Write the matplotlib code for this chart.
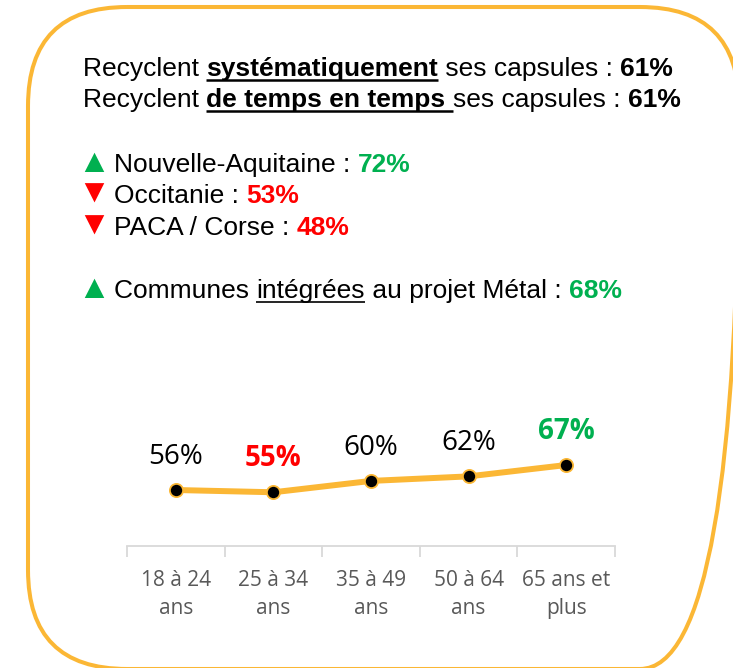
import matplotlib
matplotlib.use("Agg")
import matplotlib.pyplot as plt
from matplotlib.patches import FancyBboxPatch

# ---------------- data ----------------
categories = ["18 à 24\nans", "25 à 34\nans", "35 à 49\nans", "50 à 64\nans", "65 ans et\nplus"]
values = [56, 55, 60, 62, 67]
label_colors = ["black", "#FF0000", "black", "black", "#00B050"]
label_weights = ["normal", "bold", "normal", "normal", "bold"]

GREEN = "#00B050"
RED = "#FF0000"
ORANGE = "#FBB735"

# each piece: (text, weight, color, underline)
header_line1 = [("Recyclent ", "normal", "black", False),
                ("systématiquement", "bold", "black", True),
                (" ses capsules : ", "normal", "black", False),
                ("61%", "bold", "black", False)]
header_line2 = [("Recyclent ", "normal", "black", False),
                ("de temps en temps ", "bold", "black", True),
                ("ses capsules : ", "normal", "black", False),
                ("61%", "bold", "black", False)]
region_lines = [
    [("▲", "normal", GREEN, False), ("Nouvelle-Aquitaine : ", "normal", "black", False), ("72%", "bold", GREEN, False)],
    [("▼", "normal", RED, False), ("Occitanie : ", "normal", "black", False), ("53%", "bold", RED, False)],
    [("▼", "normal", RED, False), ("PACA / Corse : ", "normal", "black", False), ("48%", "bold", RED, False)],
]
commune_line = [("▲", "normal", GREEN, False), ("Communes ", "normal", "black", False),
                ("intégrées", "normal", "black", True), (" au projet Métal : ", "normal", "black", False),
                ("68%", "bold", GREEN, False)]

# ---------------- figure ----------------
W, H = 733, 668
fig = plt.figure(figsize=(W / 100, H / 100), dpi=100)
ov = fig.add_axes([0, 0, 1, 1])
ov.set_xlim(0, W)
ov.set_ylim(H, 0)
ov.axis("off")
ov.patch.set_alpha(0)

box = FancyBboxPatch((28, 7), 711, 662, boxstyle="round,pad=0,rounding_size=99",
                     fill=False, ec=ORANGE, lw=2.9)
ov.add_patch(box)

fig.canvas.draw()
renderer = fig.canvas.get_renderer()
SANS = ["Liberation Sans", "DejaVu Sans"]
TXT = 19


def draw_line(x, y, pieces, size=TXT, ul_lw=1.8):
    for text, weight, color, ul in pieces:
        if text in ("▲", "▼"):
            ov.text(x + 9.5, y, text, fontsize=24, color=color, family=SANS,
                    va="baseline", ha="center")
            x += 30
            continue
        t = ov.text(x, y, text, fontsize=size, fontweight=weight, color=color,
                    family=SANS, va="baseline", ha="left")
        w = t.get_window_extent(renderer).width
        if ul:
            ov.plot([x, x + w], [y + 3.5, y + 3.5], color=color, lw=ul_lw, solid_capstyle="butt")
        x += w


draw_line(83, 76, header_line1)
draw_line(83, 107, header_line2)
for yy, pcs in zip([172, 203, 235], region_lines):
    draw_line(84, yy, pcs)
draw_line(84, 298, commune_line, ul_lw=1.2)

# ---------------- chart ----------------
ax_left, ax_right, ax_bottom, ax_top = 127, 615, 546, 400
ax = fig.add_axes([ax_left / W, (H - ax_bottom) / H, (ax_right - ax_left) / W, (ax_bottom - ax_top) / H])
ax.patch.set_alpha(0)
x = list(range(len(values)))
ax.plot(x, values, color=ORANGE, lw=4.3, marker="o", ms=9.5, mfc="black", mec=ORANGE,
        mew=1.3, solid_capstyle="round", zorder=3)
ax.set_xlim(-0.5, len(values) - 0.5)
px_per = 2.27
ymin = 56 - (ax_bottom - 490) / px_per
ax.set_ylim(ymin, ymin + (ax_bottom - ax_top) / px_per)

for xi, v, c, wgt in zip(x, values, label_colors, label_weights):
    ax.annotate(f"{v}%", (xi, v), xytext=(0, 24), textcoords="offset points",
                ha="center", va="center", fontsize=20, color=c, fontweight=wgt,
                family=["Open Sans", "DejaVu Sans"])

for s in ["top", "left", "right"]:
    ax.spines[s].set_visible(False)
ax.spines["bottom"].set_color("#D9D9D9")
ax.spines["bottom"].set_linewidth(1.3)
ax.set_yticks([])
ax.set_xticks(x)
ax.set_xticklabels(categories, fontsize=15, color="#595959", family=["Open Sans", "DejaVu Sans"])
for t in ax.get_xticklabels():
    t.set_linespacing(1.42)
ax.set_xticks([i - 0.5 for i in range(len(values) + 1)], minor=True)
ax.tick_params(axis="x", which="major", length=0, pad=17.5)
ax.tick_params(axis="x", which="minor", length=8, color="#D9D9D9", width=1.3, direction="out")

fig.savefig("out.png", dpi=100)
